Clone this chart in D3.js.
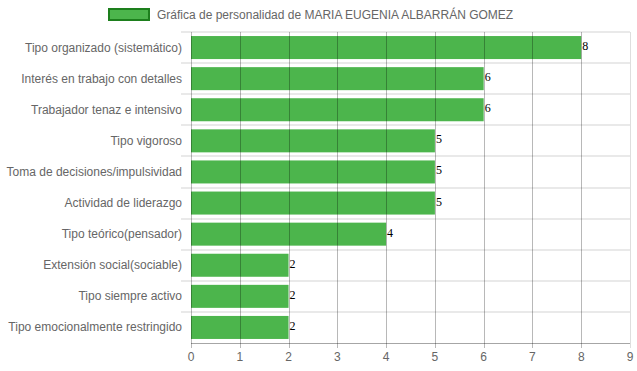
<!doctype html>
<meta charset=utf8>
<title>Gráfica de personalidad</title>
<style>
  html, body { margin: 0; background: white; }
  svg { display: block; font-family: "Liberation Sans", Arial, Helvetica, sans-serif; }
</style>
<svg width=637 height=371></svg>
<script src=https://d3js.org/d3.v7.min.js></script>
<script>
  var categories = [
    'Tipo organizado (sistemático)',
    'Interés en trabajo con detalles',
    'Trabajador tenaz e intensivo',
    'Tipo vigoroso',
    'Toma de decisiones/impulsividad',
    'Actividad de liderazgo',
    'Tipo teórico(pensador)',
    'Extensión social(sociable)',
    'Tipo siempre activo',
    'Tipo emocionalmente restringido'
  ];
  var values = [8, 6, 6, 5, 5, 5, 4, 2, 2, 2];
  var ticks = [0, 1, 2, 3, 4, 5, 6, 7, 8, 9];
  var legendLabel = 'Gráfica de personalidad de MARIA EUGENIA ALBARRÁN GOMEZ';

  var svg = d3.select('svg');
  // note: "top" is taken by window.top, so use plot* names
  var plotLeft = 191, plotRight = 630, plotTop = 32, plotBottom = 343;

  var x = d3.scaleLinear().domain([0, 9]).range([plotLeft, plotRight]);
  var y = d3.scaleBand().domain(categories).range([plotTop, plotBottom]).paddingInner(0.26).paddingOuter(0.13);

  // horizontal grid (category boundaries)
  var bounds = d3.range(categories.length).map(function (i) {
    return plotTop + i * (plotBottom - plotTop) / categories.length;
  });
  svg.append('g').selectAll('line').data(bounds).enter().append('line')
    .attr('x1', plotLeft - 10).attr('x2', plotRight)
    .attr('y1', function (d) { return Math.round(d); }).attr('y2', function (d) { return Math.round(d); })
    .attr('stroke', '#e9e9e9').attr('stroke-width', 2);

  // bars
  svg.append('g').selectAll('rect').data(values).enter().append('rect')
    .attr('x', x(0))
    .attr('y', function (d, i) { return y(categories[i]); })
    .attr('width', function (d) { return x(d) - x(0); })
    .attr('height', y.bandwidth())
    .attr('fill', '#4cb54c');

  // vertical grid drawn over bars
  svg.append('g').selectAll('line').data(ticks).enter().append('line')
    .attr('x1', function (d) { return Math.round(x(d)) + 0.5; })
    .attr('x2', function (d) { return Math.round(x(d)) + 0.5; })
    .attr('y1', plotTop).attr('y2', plotBottom + 5)
    .attr('stroke', function (d) { return d === 9 ? 'rgba(0,0,0,0.13)' : 'rgba(0,0,0,0.28)'; });

  // bottom axis line
  svg.append('line').attr('x1', plotLeft).attr('x2', plotRight)
    .attr('y1', plotBottom + 0.5).attr('y2', plotBottom + 0.5).attr('stroke', 'rgba(0,0,0,0.35)');

  // x tick labels
  svg.append('g').selectAll('text').data(ticks).enter().append('text')
    .attr('x', function (d) { return x(d); }).attr('y', 361)
    .attr('text-anchor', 'middle').attr('font-size', 12).attr('fill', '#666')
    .text(function (d) { return d; });

  // category labels
  svg.append('g').selectAll('text').data(categories).enter().append('text')
    .attr('x', 182).attr('y', function (d) { return y(d) + y.bandwidth() / 2 + 4; })
    .attr('text-anchor', 'end').attr('font-size', 12).attr('fill', '#666')
    .text(function (d) { return d; });

  // value labels
  svg.append('g').selectAll('text').data(values).enter().append('text')
    .attr('x', function (d) { return x(d) + 1; })
    .attr('y', function (d, i) { return y(categories[i]) + 14; })
    .attr('font-family', '"Liberation Serif", "Times New Roman", serif')
    .attr('font-size', 12).attr('fill', '#000')
    .text(function (d) { return d; });

  // legend
  svg.append('rect').attr('x', 109).attr('y', 9).attr('width', 40).attr('height', 11)
    .attr('fill', '#4cb54c').attr('stroke', '#1d7f1d').attr('stroke-width', 2);
  svg.append('text').attr('x', 157).attr('y', 19).attr('font-size', 12).attr('fill', '#666')
    .text(legendLabel);
</script>
